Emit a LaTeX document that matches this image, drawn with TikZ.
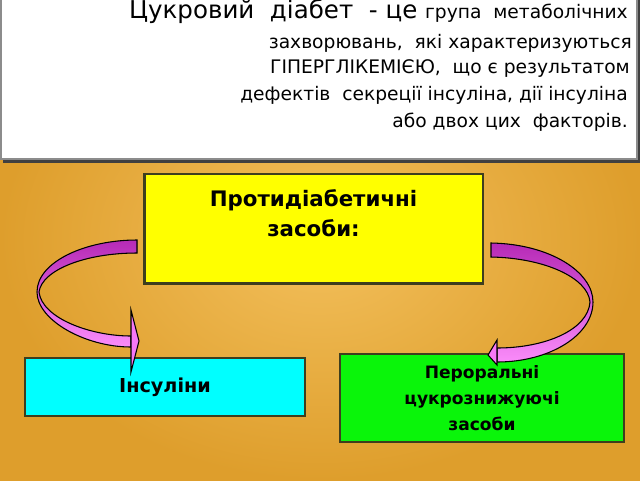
\documentclass[tikz,border=0pt]{standalone}
\usepackage{fontspec}
\setmainfont{DejaVu Sans}
\usetikzlibrary{shadings}

\definecolor{bgin}{RGB}{243,192,92}
\definecolor{bgout}{RGB}{222,158,44}
\definecolor{boxline}{RGB}{62,62,30}
\definecolor{boxyellow}{RGB}{255,255,0}
\definecolor{boxcyan}{RGB}{0,255,255}
\definecolor{boxgreen}{RGB}{10,245,10}
\definecolor{ribbondark}{RGB}{182,42,182}
\definecolor{ribbonlight}{RGB}{250,140,250}
\definecolor{headpink}{RGB}{246,120,246}

\tikzset{
  toptext/.style={anchor=base east, inner sep=0pt, font=\fontsize{14}{16}\selectfont},
  groupbox/.style={draw=boxline, line width=2pt, inner sep=0pt, align=center,
    font=\bfseries\fontsize{16}{22.5}\selectfont},
  ribbon/.style={draw=black, line width=0.8pt, top color=ribbondark, bottom color=ribbonlight}
}

\begin{document}
\begin{tikzpicture}[x=0.75pt,y=-0.75pt]
  \shade[inner color=bgin, outer color=bgout] (0,0) rectangle (640,480);
  \useasboundingbox (0,0) rectangle (640,480);
  \fill[black!75] (3,-5) rectangle (640,163);
  \filldraw[fill=white, draw=black!45, line width=1pt] (1,-5) rectangle (637,159);
  \node[toptext] (line1) at (628,18) {\fontsize{18.4}{20}\selectfont Цукровий\ \ діабет\ \ - це \fontsize{14}{16}\selectfont група\ \ метаболічних};
  \node[toptext] (line2) at (632,48) {захворювань,\ \ які характеризуються};
  \node[toptext] (line3) at (630,73) {ГІПЕРГЛІКЕМІЄЮ,\ \ що є результатом};
  \node[toptext] (line4) at (628,100) {дефектів\ \ секреції інсуліна, дії інсуліна};
  \node[toptext] (line5) at (628,127) {або двох цих\ \ факторів.};
  \node[groupbox, fill=boxyellow, minimum width=254pt, minimum height=82pt] (antidiab) at (313.5,228.5)
    {Протидіабетичні\\засоби:\\\mbox{}};
  \node[groupbox, fill=boxcyan, minimum width=210pt, minimum height=43.5pt, font=\bfseries\fontsize{14.4}{17}\selectfont] (insulin) at (165,387)
    {Інсуліни};
  \node[groupbox, fill=boxgreen, minimum width=213pt, minimum height=66pt, font=\bfseries\fontsize{12.8}{19.5}\selectfont] (oral) at (482,398)
    {Пероральні\\цукрознижуючі\\засоби};
  \filldraw[ribbon] (137,240) .. controls (85,240) and (37,262) .. (37,292)
    .. controls (37,320) and (85,347) .. (131,347) -- (131,336)
    .. controls (90,336) and (42,318) .. (39,292)
    .. controls (42,270) and (85,253) .. (137,253) -- cycle;
  \filldraw[fill=headpink, draw=black, line width=0.8pt] (131,310) -- (139,341) -- (131,372) -- cycle;
  \filldraw[ribbon] (491,243) .. controls (550,244) and (593,272) .. (593,302)
    .. controls (593,335) and (550,362) .. (497,362) -- (497,348)
    .. controls (545,348) and (588,330) .. (590,302)
    .. controls (588,278) and (545,258) .. (491,257) -- cycle;
  \filldraw[fill=headpink, draw=black, line width=0.8pt] (497,340) -- (488,355) -- (497,365) -- cycle;
\end{tikzpicture}
\end{document}
